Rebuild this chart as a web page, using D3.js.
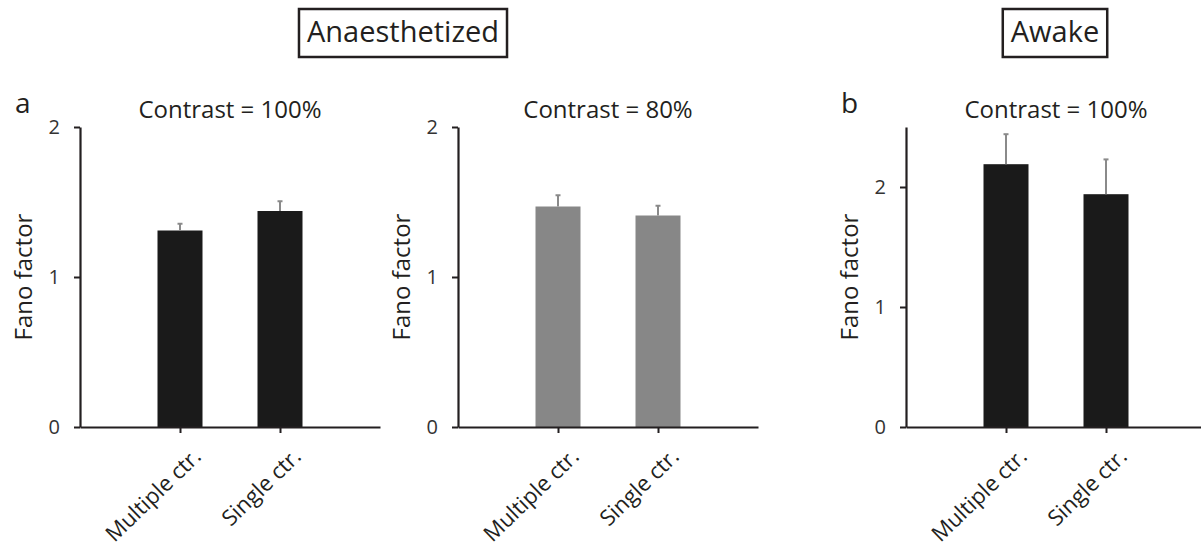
<!DOCTYPE html>
<html>
<head>
<meta charset="utf-8">
<script src="https://cdn.jsdelivr.net/npm/d3@7"></script>
<style>
  body { margin: 0; background: #fff; }
  text { font-family: "Open Sans", sans-serif; fill: #231f20; }
</style>
</head>
<body>
<svg id="fig" width="1201" height="554"></svg>
<script>
// values
var categories = ["Multiple ctr.", "Single ctr."];
var anes100Mean = [1.31, 1.44];
var anes100Err = [0.045, 0.065];
var anes80Mean = [1.47, 1.41];
var anes80Err = [0.075, 0.065];
var awakeMean = [2.19, 1.94];
var awakeErr = [0.25, 0.29];
var yTicks = [0, 1, 2];

var ink = "#231f20";
var svg = d3.select("#fig");

var panels = [
    { left: 80, title: "Contrast = 100%", mean: anes100Mean, err: anes100Err, yMax: 2, fill: "#1a1a1a", letter: "a" },
    { left: 458, title: "Contrast = 80%", mean: anes80Mean, err: anes80Err, yMax: 2, fill: "#878787" },
    { left: 906, title: "Contrast = 100%", mean: awakeMean, err: awakeErr, yMax: 2.5, fill: "#1a1a1a", letter: "b" }
];

var plotW = 300, plotTop = 127, plotBottom = 427;

function drawPanel(p) {
    var g = svg.append("g").attr("transform", "translate(" + p.left + ",0)");

    var x = d3.scalePoint()
        .domain(categories)
        .range([0, plotW])
        .padding(1);

    var y = d3.scaleLinear()
        .domain([0, p.yMax])
        .range([plotBottom, plotTop]);

    var barW = 45;
    var rows = categories.map(function (c, i) {
        return { cat: c, mean: p.mean[i], err: p.err[i] };
    });

    // bars
    g.selectAll("rect.bar")
        .data(rows)
        .enter()
        .append("rect")
        .attr("class", "bar")
        .attr("x", function (d) { return x(d.cat) - barW / 2; })
        .attr("y", function (d) { return y(d.mean); })
        .attr("width", barW)
        .attr("height", function (d) { return y(0) - y(d.mean); })
        .style("fill", p.fill);

    // error bars, upward only
    var eb = g.selectAll("g.err")
        .data(rows)
        .enter()
        .append("g")
        .attr("class", "err")
        .style("stroke", "#8a8a8a")
        .style("stroke-width", 2);
    eb.append("line")
        .attr("x1", function (d) { return x(d.cat); })
        .attr("x2", function (d) { return x(d.cat); })
        .attr("y1", function (d) { return y(d.mean); })
        .attr("y2", function (d) { return y(d.mean + d.err); });
    eb.append("line")
        .attr("x1", function (d) { return x(d.cat) - 2.5; })
        .attr("x2", function (d) { return x(d.cat) + 2.5; })
        .attr("y1", function (d) { return y(d.mean + d.err); })
        .attr("y2", function (d) { return y(d.mean + d.err); });

    // y axis
    var ya = g.append("g")
        .call(d3.axisLeft(y).tickValues(yTicks).tickSize(6).tickPadding(14).tickSizeOuter(0).tickFormat(d3.format("d")));
    ya.select(".domain").attr("stroke", ink).attr("stroke-width", 2.2);
    ya.selectAll(".tick line").attr("stroke", ink).attr("stroke-width", 2);
    ya.selectAll(".tick text").style("font-size", "20px").style("fill", "#333");

    // x axis
    var xa = g.append("g")
        .attr("transform", "translate(0," + plotBottom + ")")
        .call(d3.axisBottom(x).tickSize(6).tickSizeOuter(0));
    xa.select(".domain").attr("stroke", ink).attr("stroke-width", 2.2);
    xa.selectAll(".tick line").attr("stroke", ink).attr("stroke-width", 2);
    xa.selectAll(".tick text")
        .style("font-size", "22px")
        .attr("text-anchor", "end")
        .attr("y", 0)
        .attr("dy", null)
        .attr("transform", "translate(22,31) rotate(-44)");

    // y label
    g.append("text")
        .attr("transform", "translate(-48," + ((plotTop + plotBottom) / 2) + ") rotate(-90)")
        .attr("text-anchor", "middle")
        .style("font-size", "24px")
        .text("Fano factor");

    // title
    g.append("text")
        .attr("x", plotW / 2)
        .attr("y", 118)
        .attr("text-anchor", "middle")
        .style("font-size", "24px")
        .text(p.title);

    if (p.letter) {
        g.append("text")
            .attr("x", -65)
            .attr("y", 113)
            .style("font-size", "28px")
            .text(p.letter);
    }
}

panels.forEach(drawPanel);

// condition boxes
function drawBox(label, cx) {
    var t = svg.append("text")
        .attr("x", cx)
        .attr("y", 42)
        .attr("text-anchor", "middle")
        .style("font-size", "29px")
        .text(label);
    var bb = t.node().getBBox();
    svg.append("rect")
        .attr("x", bb.x - 8)
        .attr("y", 9)
        .attr("width", bb.width + 16)
        .attr("height", 48)
        .style("fill", "none")
        .style("stroke", ink)
        .style("stroke-width", 2.5);
}

drawBox("Anaesthetized", 403);
drawBox("Awake", 1055);
</script>
</body>
</html>
